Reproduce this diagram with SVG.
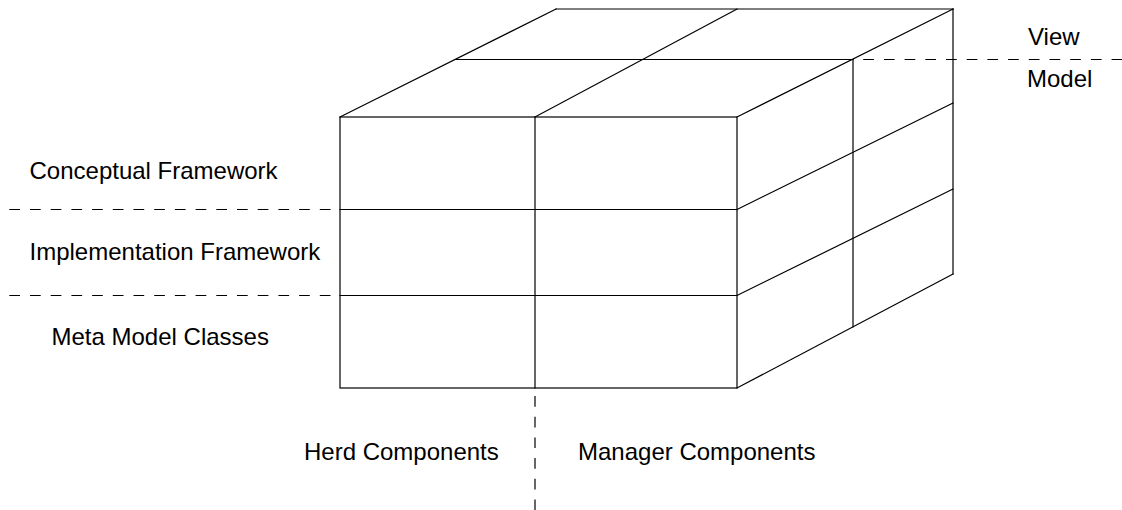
<svg xmlns="http://www.w3.org/2000/svg" width="1122" height="510" viewBox="0 0 1122 510">
<style>
.edge{fill:none;stroke:#000;stroke-width:1.2;stroke-linecap:square}
.dash{fill:none;stroke:#000;stroke-width:1.2;stroke-dasharray:10.7 10}
.lbl{font-family:"Liberation Sans",Arial,sans-serif;font-size:24px;fill:#000}
</style>
<rect width="1122" height="510" fill="#fff"/>
<g id="cube">
<g id="front-face">
<rect class="edge" x="340" y="117" width="397" height="271"/>
<line class="edge" x1="340" y1="209.5" x2="737" y2="209.5"/>
<line class="edge" x1="340" y1="295.5" x2="737" y2="295.5"/>
<line class="edge" x1="535" y1="117" x2="535" y2="388"/>
</g>
<g id="top-face">
<line class="edge" x1="340" y1="117" x2="556" y2="9"/>
<line class="edge" x1="535" y1="117" x2="737" y2="9"/>
<line class="edge" x1="737" y1="117" x2="953" y2="9"/>
<line class="edge" x1="556" y1="9" x2="953" y2="9"/>
<line class="edge" x1="455" y1="59.5" x2="853" y2="59.5"/>
</g>
<g id="right-face">
<line class="edge" x1="953" y1="9" x2="953" y2="274"/>
<line class="edge" x1="853" y1="59.5" x2="853" y2="327"/>
<line class="edge" x1="737" y1="209.5" x2="953" y2="103"/>
<line class="edge" x1="737" y1="295.5" x2="953" y2="189"/>
<line class="edge" x1="737" y1="388" x2="953" y2="274"/>
</g>
</g>
<g id="separators">
<line class="dash" x1="9.3" y1="209.5" x2="340" y2="209.5"/>
<line class="dash" x1="9.3" y1="295.5" x2="340" y2="295.5"/>
<line class="dash" x1="863.2" y1="59.5" x2="1122" y2="59.5"/>
<line class="dash" x1="535" y1="396" x2="535" y2="510"/>
</g>
<g id="labels">
<text id="view" class="lbl" x="1028" y="45">View</text>
<text id="model" class="lbl" x="1027" y="87">Model</text>
<text id="conceptual" class="lbl" x="29.5" y="179">Conceptual Framework</text>
<text id="implementation" class="lbl" x="29.5" y="260">Implementation Framework</text>
<text id="meta" class="lbl" x="51.5" y="345">Meta Model Classes</text>
<text id="herd" class="lbl" x="304" y="460">Herd Components</text>
<text id="manager" class="lbl" x="578" y="460">Manager Components</text>
</g>
</svg>
